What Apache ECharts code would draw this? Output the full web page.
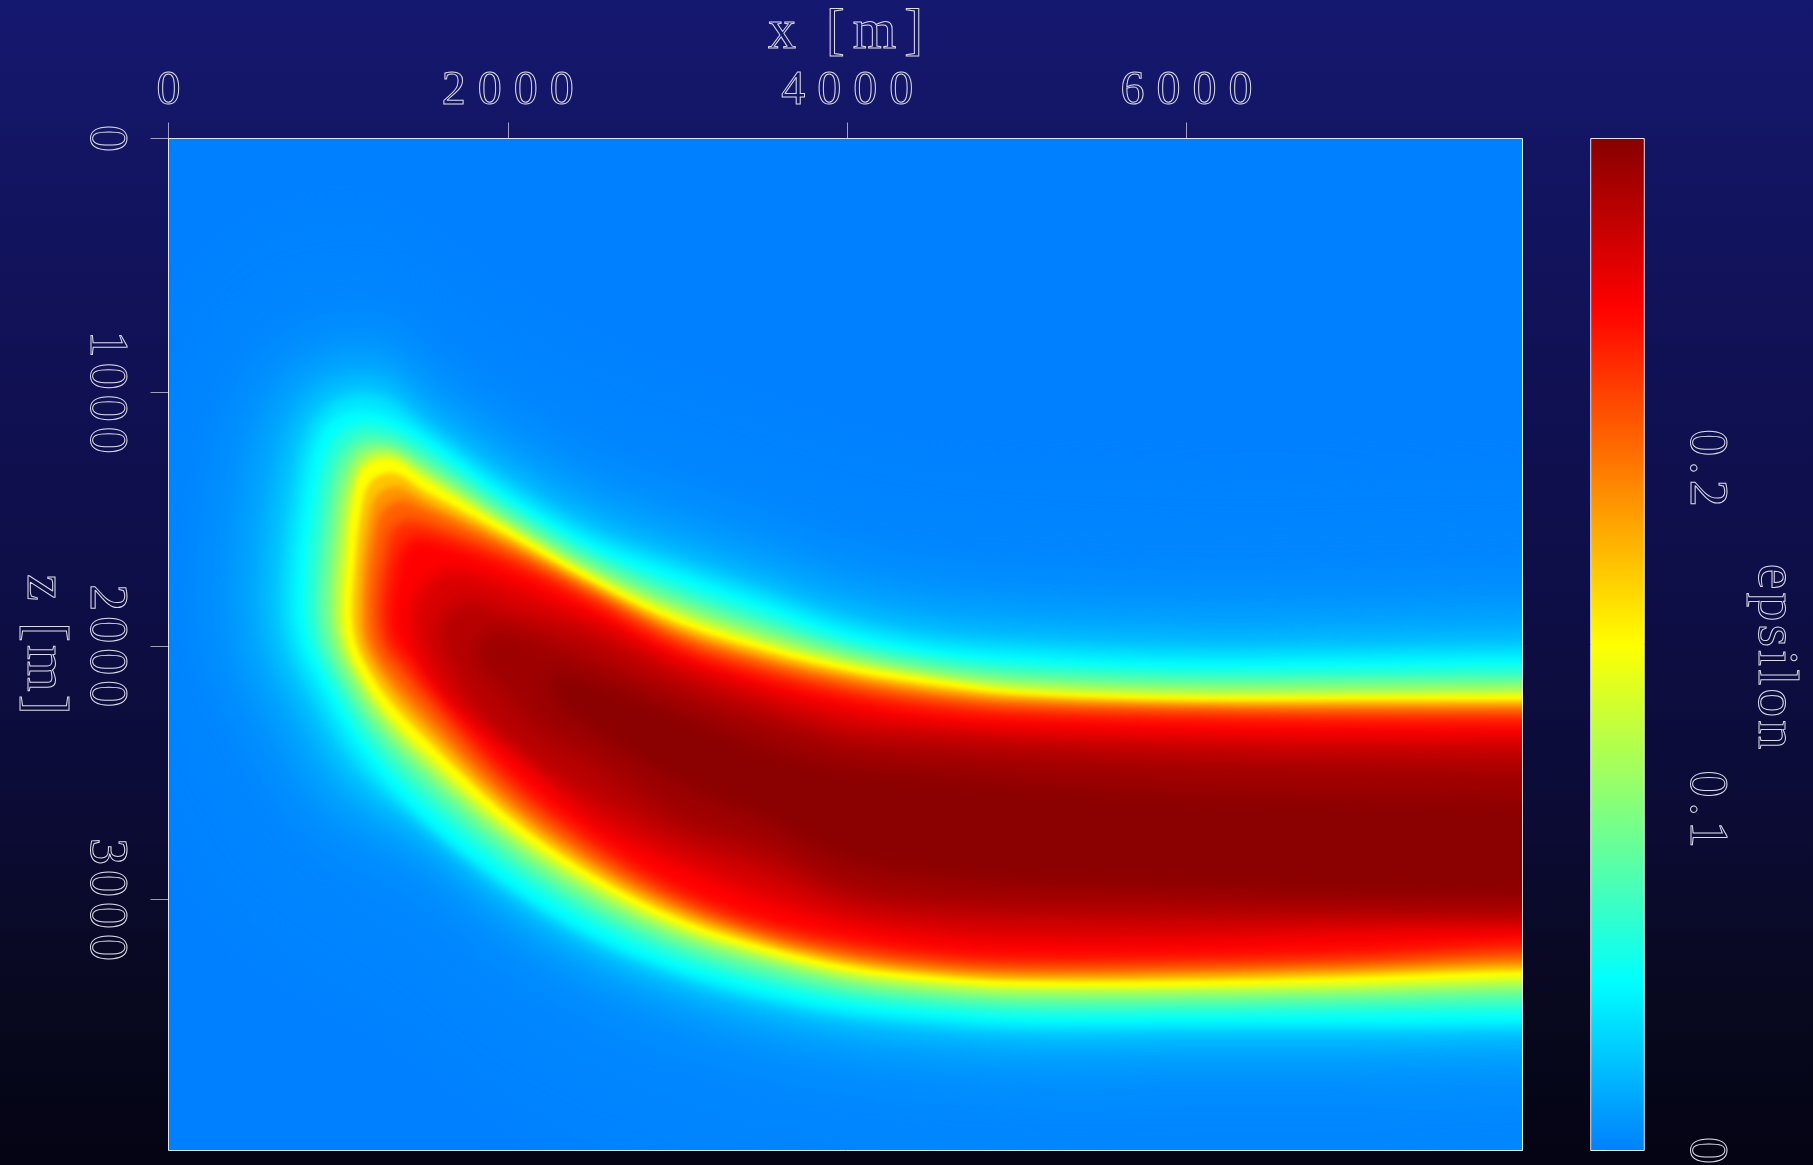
<!DOCTYPE html>
<html><head><meta charset="utf-8">
<style>html,body{margin:0;padding:0;background:#000}#c{width:1813px;height:1165px}</style>
<script src="https://cdn.jsdelivr.net/npm/echarts@6/dist/echarts.min.js"></script>
</head><body><div id="c"></div>
<script>
// ---- axes ----
const xMax = 7980, zMax = 3990, epsMax = 0.2966;
const xTicks = [0,2000,4000,6000], zTicks = [0,1000,2000,3000], epsTicks = [0,0.1,0.2];
const colorRamp = ['#0080ff','#00ffff','#80ff80','#ffff00','#ff8000','#ff0000','#880000'];
// ---- epsilon field ----
const contourLevels = [0.002,0.004,0.01,0.018,0.028,0.04,0.05,0.065,0.08,0.095,0.11,0.125,0.137,0.148,0.17,0.19,0.21,0.23,0.247,0.263,0.277,0.2875,0.2955];
const xStations = [1500,2000,2500,3000,3500,4000,4500,5000,6000,7000,8000];
// depth z of each contour on its shallow side, one row per level, at xStations
const upperZ = [
[500,730,920,1040,1150,1270,1340,1360,1380,1380,1370],
[775,1008,1197,1319,1433,1548,1615,1642,1666,1662,1654],
[913,1146,1335,1457,1571,1686,1753,1781,1804,1800,1792],
[1011,1244,1433,1556,1670,1784,1851,1879,1903,1899,1891],
[1083,1315,1504,1627,1741,1855,1922,1950,1974,1970,1962],
[1130,1362,1552,1674,1788,1903,1970,1997,2021,2017,2009],
[1169,1402,1591,1713,1828,1942,2009,2037,2060,2056,2048],
[1209,1433,1623,1753,1863,1974,2037,2068,2092,2088,2080],
[1244,1461,1650,1788,1899,2001,2060,2096,2119,2119,2112],
[1272,1485,1674,1816,1926,2021,2084,2119,2143,2139,2135],
[1295,1504,1694,1840,1950,2041,2100,2139,2163,2163,2155],
[1315,1520,1709,1859,1970,2056,2116,2155,2179,2179,2175],
[1331,1532,1721,1875,1985,2068,2124,2167,2191,2191,2187],
[1347,1544,1733,1891,1997,2080,2135,2179,2202,2202,2198],
[1386,1567,1753,1911,2017,2100,2155,2194,2218,2218,2218],
[1422,1591,1769,1934,2041,2119,2175,2210,2234,2234,2234],
[1457,1611,1788,1954,2060,2139,2194,2226,2246,2250,2250],
[1516,1646,1812,1985,2092,2171,2222,2254,2269,2277,2277],
[1571,1682,1840,2017,2123,2202,2254,2277,2293,2301,2305],
[null,1761,1899,2064,2175,2261,2313,2336,2356,2364,2364],
[null,1867,1958,2116,2234,2333,2356,2380,2403,2411,2411],
[null,null,2060,2190,2300,2390,2420,2440,2470,2482,2490],
[null,null,null,2265,2400,2480,2508,2540,2580,2598,2606]
];
// depth z of each contour on its deep side
const lowerZ = [
[3500,3750,3950,4100,4200,4250,4280,4300,4300,4300,4300],
[3113,3373,3575,3712,3807,3870,3902,3922,3922,3922,3918],
[2896,3156,3358,3496,3590,3653,3685,3705,3705,3705,3701],
[2806,3066,3267,3405,3500,3563,3594,3614,3614,3614,3610],
[2746,3007,3208,3346,3440,3503,3535,3555,3555,3555,3551],
[2707,2967,3168,3306,3401,3464,3496,3515,3515,3515,3511],
[2680,2940,3141,3279,3373,3436,3468,3488,3488,3488,3484],
[2620,2888,3093,3239,3334,3401,3436,3456,3456,3450,3444],
[2565,2841,3050,3200,3302,3369,3405,3425,3425,3417,3409],
[2518,2802,3019,3172,3271,3346,3381,3401,3401,3392,3377],
[2482,2770,2987,3145,3247,3322,3361,3381,3381,3370,3354],
[2451,2743,2963,3125,3227,3306,3342,3361,3361,3352,3334],
[2427,2723,2943,3109,3216,3290,3330,3350,3350,3338,3318],
[2403,2703,2928,3093,3200,3279,3318,3338,3338,3322,3302],
[2356,2668,2900,3070,3180,3259,3298,3318,3318,3302,3279],
[2313,2636,2873,3046,3160,3239,3283,3302,3298,3282,3259],
[2265,2601,2845,3022,3141,3220,3263,3283,3279,3262,3239],
[2194,2549,2802,2991,3113,3192,3235,3255,3251,3236,3204],
[2127,2498,2758,2956,3085,3160,3208,3228,3224,3206,3172],
[null,2391,2687,2853,2991,3089,3137,3156,3153,3129,3113],
[null,null,2597,2766,2884,3015,3062,3078,3081,3070,3070],
[null,null,2450,2680,2790,2950,3000,3016,3024,3036,3044],
[null,null,null,2540,2680,2845,2905,2932,2952,2972,2979]
];
// the rounded west end of each contour (x list, z list)
const noseX = [
[1276,600,200,-100,-200,-100,150,500],
[1276,745,386,191,97,156,415,769],
[1276,846,551,392,303,357,575,893],
[1276,928,681,539,463,504,692,987],
[1276,987,775,651,580,616,781,1058],
[1276,1034,846,745,675,710,852,1117],
[1276,1069,904,810,745,775,904,1158],
[1282,1087,946,863,810,840,951,1181],
[1287,1105,981,916,869,893,999,1205],
[1293,1117,1010,951,916,940,1028,1229],
[1299,1128,1034,987,957,981,1063,1240],
[1299,1140,1058,1016,987,1010,1087,1258],
[1305,1146,1075,1040,1016,1034,1105,1264],
[1305,1152,1087,1058,1040,1058,1122,1276],
[1323,1187,1128,1099,1081,1099,1158,1299],
[1346,1223,1170,1140,1128,1140,1193,1323],
[1364,1258,1211,1181,1170,1181,1229,1346],
[1393,1311,1276,1246,1235,1246,1287,1387],
[1423,1364,1335,1311,1299,1305,1340,1423],
[1659,1511,1435,1447,1511,1659],
[1776,1629,1582,1641,1806,2100],
[2100,1900,1800,1980,2200],
[2400,2250,2300,2500]
];
const noseZ = [
[350,400,650,1100,1781,2300,2700,3100],
[641,692,897,1256,1781,2108,2443,2786],
[779,810,980,1296,1781,2065,2356,2676],
[885,901,1043,1331,1781,2033,2285,2589],
[964,968,1090,1355,1781,2009,2234,2525],
[1027,1023,1130,1370,1781,1993,2194,2478],
[1090,1078,1157,1386,1780,1977,2163,2439],
[1135,1135,1220,1445,1796,1977,2147,2395],
[1175,1183,1283,1497,1812,1977,2131,2356],
[1205,1216,1327,1540,1828,1977,2120,2328],
[1222,1246,1370,1575,1836,1977,2108,2301],
[1241,1269,1402,1607,1847,1977,2100,2277],
[1256,1291,1430,1631,1851,1977,2096,2262],
[1271,1306,1453,1650,1859,1977,2088,2246],
[1318,1357,1497,1674,1859,1970,2072,2214],
[1370,1410,1536,1694,1859,1966,2056,2183],
[1427,1471,1575,1713,1859,1958,2041,2151],
[1507,1550,1639,1749,1859,1946,2021,2104],
[1583,1630,1701,1780,1859,1938,1997,2056],
[1701,1761,1859,1977,2076,2214],
[1820,1867,1958,2076,2253,2431],
[1960,1940,2030,2180,2340],
[2120,2120,2230,2330]
];
// softness of each contour's edge, in pixels
const edgeSoftness = [36,26,22,16,10,6,4,4,3.5,3,2.5,2,1.5,1.2,2.5,3.5,4.5,6,7,8,9,9,8];
// ---- text ----
const SERIF = 'Liberation Serif';
const textOutline = {color:'transparent', textBorderColor:'#dcdce8', textBorderWidth:1, fontFamily:SERIF};

const spacingBySize = {48:12, 54:5, 56:8, 60:3, 58:3};
(function(){
  const P = CanvasRenderingContext2D.prototype;
  const sp = c => { const m = /(\d+)px/.exec(c.font); const s = m ? (spacingBySize[m[1]]||0) : 0; c.letterSpacing = s+'px'; return s; };
  for (const name of ['fillText','strokeText']) {
    const f = P[name];
    P[name] = function(t,x,y,...r){ const s = sp(this); return f.call(this,t,this.textAlign==='center'?x+s/2:x,y,...r); };
  }
  const mt = P.measureText;
  P.measureText = function(t){ sp(this); return mt.call(this,t); };
  // a shape that asks for a shadow gets its own edge softened instead
  const fill = P.fill;
  P.fill = function(...a){
    if (this.shadowBlur > 0) {
      const b = this.shadowBlur;
      this.shadowBlur = 0;
      this.filter = 'blur(' + b + 'px)';
      fill.apply(this,a);
      this.filter = 'none';
      this.shadowBlur = b;
      return;
    }
    return fill.apply(this,a);
  };
})();

function contourPolygon(i){
  const pts = [];
  const U = upperZ[i], L = lowerZ[i];
  pts.push([9500, U[U.length-1]]);
  for (let k = xStations.length-1; k >= 0; k--) if (U[k] !== null) pts.push([xStations[k], U[k]]);
  noseX[i].forEach((x,k) => pts.push([x, noseZ[i][k]]));
  for (let k = 0; k < xStations.length; k++) if (L[k] !== null) pts.push([xStations[k], L[k]]);
  pts.push([9500, L[L.length-1]]);
  return pts;
}

const chart = echarts.init(document.getElementById('c'), null, {renderer:'canvas', width:1813, height:1165});
const tick = {show:true, inside:false, lineStyle:{color:'rgba(255,255,255,0.6)', width:1}};
chart.setOption({
  animation:false,
  backgroundColor:{type:'linear',x:0,y:0,x2:0,y2:1,colorStops:[
    {offset:0,color:'#15186f'},{offset:0.26,color:'#111258'},{offset:0.5,color:'#0e0e48'},
    {offset:0.72,color:'#0b0b33'},{offset:0.86,color:'#08081f'},{offset:1,color:'#040414'}]},
  grid:[
    {left:168.5, top:138.5, width:1354, height:1012, show:true, backgroundColor:'#0080ff', borderWidth:0, outerBoundsMode:'none'},
    {left:1590.7, top:138.5, width:53.6, height:1012, show:false, outerBoundsMode:'none'}
  ],
  xAxis:[
    {gridIndex:0, type:'value', position:'top', min:0, max:xMax, splitLine:{show:false},
     axisLine:{show:false}, axisTick:Object.assign({length:16, customValues:xTicks},tick),
     axisLabel:Object.assign({customValues:xTicks, formatter:v=>String(v), hideOverlap:false, fontSize:48, margin:47, verticalAlign:'middle', align:'center'},textOutline),
     name:'x [m]', nameLocation:'middle', nameGap:105, nameMoveOverlap:false,
     nameTextStyle:Object.assign({fontSize:56, verticalAlign:'middle', align:'center'},textOutline)},
    {gridIndex:1, type:'value', min:0, max:1, show:false}
  ],
  yAxis:[
    {gridIndex:0, type:'value', inverse:true, min:0, max:zMax, splitLine:{show:false},
     axisLine:{show:false}, axisTick:Object.assign({length:18, customValues:zTicks},tick),
     axisLabel:Object.assign({customValues:zTicks, formatter:v=>String(v), hideOverlap:false, fontSize:54, margin:63, rotate:-90, align:'center', verticalAlign:'middle'},textOutline),
     name:'z [m]', nameLocation:'middle', nameGap:125, nameRotate:-90, nameMoveOverlap:false,
     nameTextStyle:Object.assign({fontSize:60, align:'center', verticalAlign:'middle'},textOutline)},
    {gridIndex:1, type:'value', position:'right', min:0, max:epsMax, splitLine:{show:false},
     axisLine:{show:false}, axisTick:Object.assign({length:16, customValues:epsTicks},tick),
     axisLabel:Object.assign({customValues:epsTicks, formatter:v=>String(v), hideOverlap:false, fontSize:54, margin:61, rotate:-90, align:'center', verticalAlign:'middle'},textOutline),
     name:'epsilon', nameLocation:'middle', nameGap:130, nameRotate:-90, nameMoveOverlap:false,
     nameTextStyle:Object.assign({fontSize:58, align:'center', verticalAlign:'middle', padding:[0,0,0,24]},textOutline)}
  ],
  visualMap:{type:'continuous', seriesIndex:0, dimension:1, min:0, max:epsMax, inRange:{color:colorRamp},
    left:1590.7, top:138.5, itemWidth:53.6, itemHeight:1012, padding:0, text:null, showLabel:false,
    calculable:false, realtime:false, hoverLink:false, textStyle:{color:'transparent', fontSize:0}},
  series:[
    {type:'custom', name:'epsilon', xAxisIndex:0, yAxisIndex:0, clip:true, silent:true, z:2,
     data:[[-1,0]].concat(contourLevels.map((v,i)=>[i,v])),
     renderItem:function(params,api){
       const i = api.value(0), color = api.visual('color');
       if (i < 0) {
         const pts = [[0,0],[xMax,0],[xMax,zMax],[0,zMax]].map(p=>api.coord(p));
         return {type:'polygon', shape:{points:pts}, style:{fill:color}};
       }
       const pts = contourPolygon(i).map(p=>api.coord(p));
       return {type:'polygon', shape:{points:pts, smooth:0.35},
               style:{fill:color, shadowBlur:edgeSoftness[i], shadowColor:color}};
     }},
    {type:'custom', name:'frame', xAxisIndex:0, yAxisIndex:0, clip:false, silent:true, z:10,
     data:[[0,0]],
     renderItem:function(p,api){
       const pts = [[0,0],[xMax,0],[xMax,zMax],[0,zMax]].map(q=>api.coord(q));
       return {type:'polygon', shape:{points:pts}, style:{fill:'none', stroke:'rgba(255,255,255,0.85)', lineWidth:1}};
     }},
    {type:'custom', name:'barFrame', xAxisIndex:1, yAxisIndex:1, clip:false, silent:true, z:10,
     data:[[0,0]],
     renderItem:function(p,api){
       const pts = [[0,0],[1,0],[1,epsMax],[0,epsMax]].map(q=>api.coord(q));
       return {type:'polygon', shape:{points:pts}, style:{fill:'none', stroke:'rgba(255,255,255,0.85)', lineWidth:1}};
     }}
  ]
});
</script></body></html>
